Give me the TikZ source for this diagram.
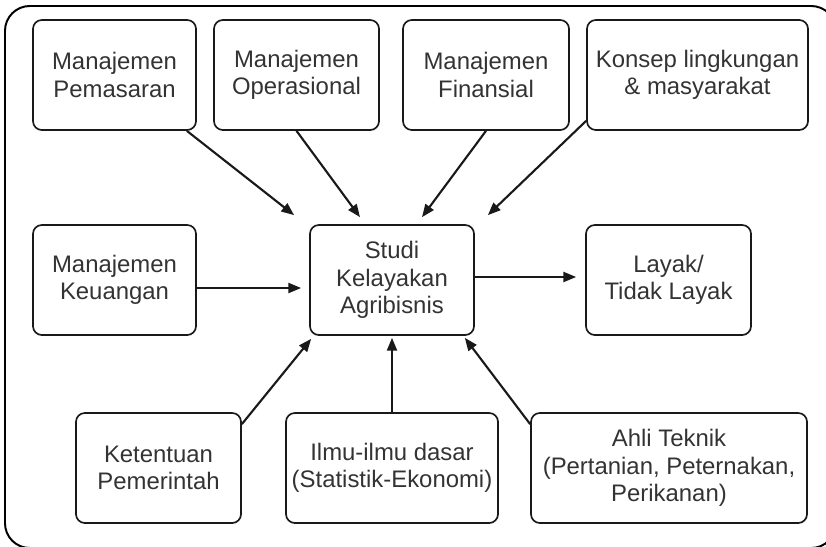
\documentclass[tikz,border=0pt]{standalone}
\usepackage{fontspec}
\setmainfont{Liberation Sans}
\usetikzlibrary{arrows.meta}

\begin{document}
\begin{tikzpicture}[
    box/.style={draw=black!90, line width=1.2pt, rounded corners=0.22cm,
        align=center, minimum height=2.75cm, inner sep=0pt,
        text=black!80, font=\fontsize{17}{19.6}\selectfont},
    arr/.style={draw=black!90, line width=1.5pt, -{Triangle[length=0.32cm,width=0.25cm]}}
]
\useasboundingbox (0,0) rectangle (20.65,-13.65);
\clip (0,0) rectangle (20.65,-13.65);
% outer frame
\draw[line width=1.4pt, rounded corners=0.62cm] (0.125,-0.15) rectangle (20.9,-13.7);

% top row
\node[box, minimum width=4.075cm] (pemasaran) at (2.8625,-1.875) {Manajemen\\Pemasaran};
\node[box, minimum width=4.125cm] (operasional) at (7.4125,-1.875) {Manajemen\\Operasional};
\node[box, minimum width=4.15cm] (finansial) at (12.15,-1.875) {Manajemen\\Finansial};
\node[box, minimum width=5.525cm] (konsep) at (17.4375,-1.875) {Konsep lingkungan\\\& masyarakat};

% middle row
\node[box, minimum width=4.075cm] (keuangan) at (2.8625,-7.0) {Manajemen\\Keuangan};
\node[box, minimum width=4.1cm] (studi) at (9.8,-7.0) {Studi\\Kelayakan\\Agribisnis};
\node[box, minimum width=4.125cm] (layak) at (16.7125,-7.0) {Layak/\\Tidak Layak};

% bottom row
\node[box, minimum width=4.125cm] (ketentuan) at (3.9625,-11.7) {Ketentuan\\Pemerintah};
\node[box, minimum width=5.3cm] (ilmu) at (9.8,-11.7) {Ilmu-ilmu dasar\\(Statistik-Ekonomi)};
\node[box, minimum width=6.9cm] (ahli) at (16.725,-11.7) {Ahli Teknik\\(Pertanian, Peternakan,\\Perikanan)};

% arrows into studi
\draw[arr] ([xshift=-0.25cm]pemasaran.south east) -- ([shift={(-0.375,0.225)}]studi.north west);
\draw[arr] (operasional.south) -- ([shift={(-0.8,0.175)}]studi.north);
\draw[arr] (finansial.south) -- ([shift={(0.75,0.175)}]studi.north);
\draw[arr] ([yshift=0.25cm]konsep.south west) -- ([shift={(0.325,0.225)}]studi.north east);
\draw[arr] ([yshift=-0.2cm]keuangan.east) -- ([shift={(-0.2,-0.2)}]studi.west);
\draw[arr] ([yshift=-0.3cm]ketentuan.north east) -- ([shift={(0.05,-0.075)}]studi.south west);
\draw[arr] (ilmu.north) -- ([yshift=-0.05cm]studi.south);
\draw[arr] ([yshift=-0.3cm]ahli.north west) -- ([shift={(-0.25,-0.05)}]studi.south east);

% result
\draw[arr] ([yshift=0.075cm]studi.east) -- ([shift={(-0.225,0.075)}]layak.west);
\end{tikzpicture}
\end{document}
